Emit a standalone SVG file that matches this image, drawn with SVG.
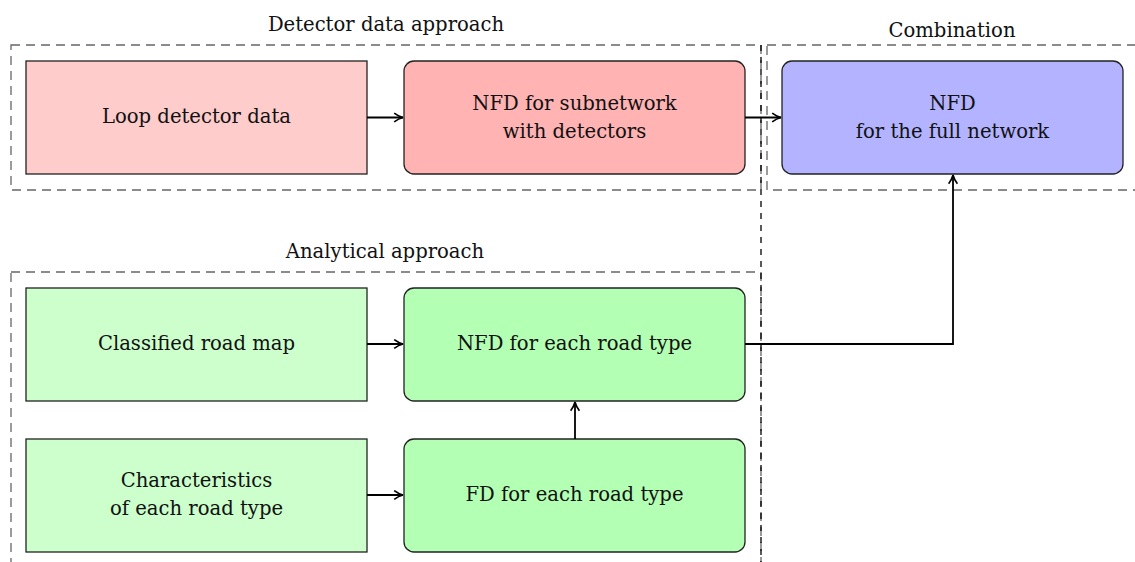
<svg xmlns="http://www.w3.org/2000/svg" width="1135" height="562" viewBox="0 0 1135 562">
<defs>
<marker id="arr" viewBox="0 0 10 10" refX="9" refY="5" markerWidth="11" markerHeight="11" markerUnits="userSpaceOnUse" orient="auto">
<path d="M1,1 Q5,4 9,5 Q5,6 1,9" fill="none" stroke="#000" stroke-width="1.5"/>
</marker>
<style>
text{font-family:"DejaVu Serif","Liberation Serif",serif;font-size:19.6px;fill:#111;text-anchor:middle}
.grp{fill:none;stroke:#666;stroke-width:1.3;stroke-dasharray:9 6}
.sep{fill:none;stroke:#000;stroke-width:1.3;stroke-dasharray:6 6}
.n{stroke:#222;stroke-width:1.3}
.c{fill:none;stroke:#000;stroke-width:1.8;marker-end:url(#arr)}
</style>
</defs>
<rect width="1135" height="562" fill="#fff"/>
<g id="groups">
<rect class="grp" x="11" y="45" width="750" height="145"/>
<rect class="grp" x="767" y="45" width="400" height="145"/>
<rect class="grp" x="11" y="272" width="750" height="320"/>
<line class="sep" x1="761" y1="45" x2="761" y2="562"/>
<text x="386" y="31">Detector data approach</text>
<text x="952" y="37">Combination</text>
<text x="385" y="258">Analytical approach</text>
</g>
<g id="loop"><rect class="n" x="26" y="61" width="341" height="113" fill="#ffcccc"/><text x="196.5" y="123">Loop detector data</text></g>
<g id="nfdsub"><rect class="n" x="404" y="61" width="341" height="113" rx="10" fill="#ffb3b3"/><text x="574.5" y="110">NFD for subnetwork</text><text x="574.5" y="138">with detectors</text></g>
<g id="nfdfull"><rect class="n" x="782" y="61" width="341" height="113" rx="10" fill="#b3b3ff"/><text x="952.5" y="110">NFD</text><text x="952.5" y="138">for the full network</text></g>
<g id="classmap"><rect class="n" x="26" y="288" width="341" height="113" fill="#ccffcc"/><text x="196.5" y="350">Classified road map</text></g>
<g id="nfdroad"><rect class="n" x="404" y="288" width="341" height="113" rx="10" fill="#b3ffb3"/><text x="574.5" y="350">NFD for each road type</text></g>
<g id="charac"><rect class="n" x="26" y="439" width="341" height="113" fill="#ccffcc"/><text x="196.5" y="487">Characteristics</text><text x="196.5" y="515">of each road type</text></g>
<g id="fdroad"><rect class="n" x="404" y="439" width="341" height="113" rx="10" fill="#b3ffb3"/><text x="574.5" y="501">FD for each road type</text></g>
<g id="connectors">
<path class="c" d="M367,117.5 H403"/>
<path class="c" d="M745,117.5 H781"/>
<path class="c" d="M367,344 H403"/>
<path class="c" d="M367,495 H403"/>
<path class="c" d="M575,439 V402"/>
<path class="c" d="M745,344 H953 V175"/>
</g>
</svg>
